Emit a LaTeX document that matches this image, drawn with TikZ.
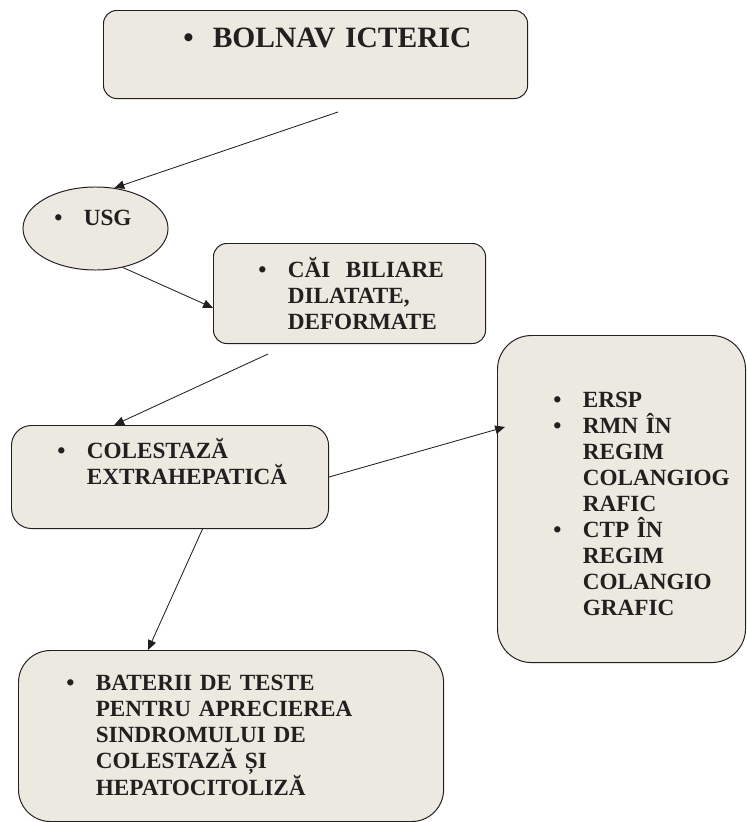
\documentclass[tikz,border=0pt]{standalone}
\usepackage{fontspec}
\setmainfont{Liberation Serif}
\usetikzlibrary{arrows.meta,shapes.geometric}
\definecolor{beige}{RGB}{236,233,224}
\definecolor{ink}{RGB}{35,31,32}
\newcommand{\bul}{\makebox[21pt][l]{\textbullet}}
\newcommand{\ind}{\hspace*{21pt}}

\begin{document}
\begin{tikzpicture}[x=0.025cm,y=-0.025cm,
    box/.style={draw=ink,fill=beige,line width=0.7pt,anchor=north west,inner sep=0pt},
    txt/.style={anchor=base west,inner sep=0pt,text width=9cm,align=left,text=ink,font=\fontsize{16.5}{18.5}\selectfont\bfseries},
    arr/.style={draw=ink,line width=0.6pt,-{Triangle[length=7pt,width=6pt]}}]
\useasboundingbox (0,0) rectangle (746,822);
% boxes
\node[box,rounded corners=0.33cm,minimum width=10.6cm,minimum height=2.2cm] (bolnav) at (103,10) {};
\node[box,ellipse,anchor=center,minimum width=3.625cm,minimum height=2.075cm] (usg) at (95.5,228.5) {};
\node[box,rounded corners=0.33cm,minimum width=6.8cm,minimum height=2.5cm] (cai) at (213,243) {};
\node[box,rounded corners=0.5cm,minimum width=7.925cm,minimum height=2.575cm] (colestaza) at (11,425) {};
\node[box,rounded corners=0.85cm,minimum width=6.2cm,minimum height=8.175cm] (ersp) at (497,335) {};
\node[box,rounded corners=0.8cm,minimum width=10.625cm,minimum height=4.275cm] (baterii) at (18,650) {};
% texts
\node[txt,font=\fontsize{21}{24}\selectfont\bfseries] (bolnav-t) at (183,48) {\bul BOLNAV ICTERIC};
\node[txt] (usg-t) at (54,225) {\bul USG};
\node[txt] (cai-t) at (258,277) {\bul CĂI\ \ BILIARE\\\ind DILATATE,\\\ind DEFORMATE};
\node[txt] (colestaza-t) at (57,458) {\bul COLESTAZĂ\\\ind EXTRAHEPATICĂ};
\node[txt] (ersp-t) at (553,407) {\bul ERSP\\\bul RMN ÎN\\\ind REGIM\\\ind COLANGIOG\\\ind RAFIC\\\bul CTP ÎN\\\ind REGIM\\\ind COLANGIO\\\ind GRAFIC};
\node[txt] (baterii-t) at (66,690) {\bul BATERII DE TESTE\\\ind PENTRU APRECIEREA\\\ind SINDROMULUI DE\\\ind COLESTAZĂ ȘI\\\ind HEPATOCITOLIZĂ};
% arrows
\coordinate (bolnav-out) at (338,112);
\coordinate (cai-out) at (268,354);
\coordinate (ersp-in) at (505,427);
\draw[arr] (bolnav-out) -- (usg.65);
\draw[arr] (usg.-55) -- (cai.186);
\draw[arr] (cai-out) -- (colestaza.137);
\draw[arr] (colestaza.east) -- (ersp-in);
\draw[arr] (colestaza.-58) -- (baterii.134);
\end{tikzpicture}
\end{document}
